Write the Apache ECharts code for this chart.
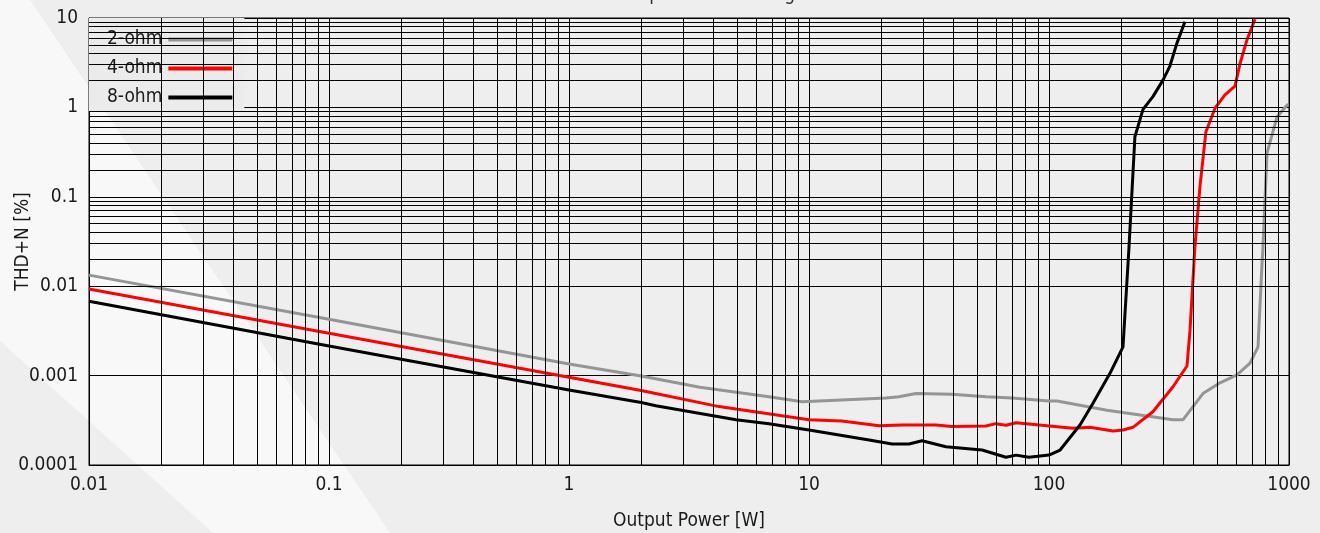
<!DOCTYPE html>
<html><head><meta charset="utf-8">
<script src="https://cdn.jsdelivr.net/npm/echarts@6/dist/echarts.min.js"></script>
<style>html,body{margin:0;padding:0;background:#eeeeee}#c{width:1320px;height:533px}</style>
</head><body><div id="c"></div>
<script>
const FONT = "'DejaVu Sans Condensed','Liberation Sans Narrow','Roboto Condensed','Liberation Sans',sans-serif";

const seriesNames = ['2-ohm', '4-ohm', '8-ohm'];
const seriesColors = ['#959595', '#ff0000', '#000000'];

// 2-ohm
const power2 = [0.01, 0.1, 1, 2.0, 3.51, 6.81, 9.35, 12.96, 20.9, 23.7, 27.9, 39.4, 54.6, 70.1, 100, 108, 174.5, 328.6, 361.4, 438, 515.9, 607, 688, 743, 772, 779, 810, 891, 991];
const thd2 = [0.0133, 0.00427, 0.00135, 0.00099, 0.00074, 0.00058, 0.00051, 0.00053, 0.00056, 0.00058, 0.00063, 0.00062, 0.00058, 0.00056, 0.00052, 0.00052, 0.00041, 0.00032, 0.00032, 0.00063, 0.00083, 0.00102, 0.00138, 0.0021, 0.018, 0.027, 0.31, 0.78, 1.09];

// 4-ohm
const power4 = [0.01, 0.1, 1, 2.0, 4.22, 10, 13.7, 19.6, 24.4, 33.8, 39.4, 54.6, 60.1, 66.2, 72.9, 93.5, 108, 125.9, 148.2, 184.8, 203.4, 223.9, 271, 328.6, 375.8, 386.8, 405.5, 425.6, 450.7, 491.7, 540.9, 595.7, 625.3, 668.5, 721.7];
const thd4 = [0.0093, 0.00297, 0.00096, 0.00068, 0.00045, 0.00032, 0.00031, 0.000275, 0.00028, 0.00028, 0.00027, 0.000273, 0.00029, 0.000278, 0.000297, 0.000278, 0.000268, 0.000257, 0.000264, 0.00024, 0.000246, 0.000264, 0.000394, 0.00075, 0.00128, 0.0032, 0.0277, 0.13, 0.535, 0.98, 1.38, 1.73, 3.1, 5.7, 9.7];

// 8-ohm
const power8 = [0.01, 0.1, 1, 2.0, 2.30, 4.97, 6.81, 10, 17.8, 22.2, 26.1, 29.6, 37.2, 52.6, 66.2, 72.9, 82.5, 100, 111.2, 134.6, 152.5, 179.5, 203.4, 215.4, 228, 246.4, 271, 298.5, 319, 341, 368.4];
const thd8 = [0.0068, 0.00214, 0.00069, 0.0005, 0.00046, 0.00032, 0.00029, 0.000246, 0.00019, 0.000172, 0.000172, 0.000187, 0.00016, 0.000147, 0.000122, 0.000129, 0.000122, 0.000129, 0.000147, 0.00028, 0.00049, 0.00106, 0.0021, 0.027, 0.47, 0.95, 1.32, 2.02, 2.9, 5.2, 9.1];

const xTicks = [0.01, 0.1, 1, 10, 100, 1000];
const yTicks = [0.0001, 0.001, 0.01, 0.1, 1, 10];
const minorSteps = [2, 3, 4, 5, 6, 7, 8, 9];

function minorValues(decades) {
  const out = [];
  for (let i = 0; i < decades.length - 1; i++) {
    minorSteps.forEach(m => out.push(Number((decades[i] * m).toPrecision(4))));
  }
  return out;
}
const xMinor = minorValues(xTicks);
const yMinor = minorValues(yTicks);

const zip = (xs, ys) => xs.map((x, i) => [x, ys[i]]);
const dataSets = [zip(power2, thd2), zip(power4, thd4), zip(power8, thd8)];

const fmt = v => String(Number(Number(v).toPrecision(3)));
const txt = { fontFamily: FONT, fontSize: 19, color: '#1a1a1a' };

const chart = echarts.init(document.getElementById('c'), null, { renderer: 'canvas' });
chart.setOption({
  backgroundColor: '#eeeeee',
  animation: false,
  title: {
    text: 'THD+N vs Output Power Rating',
    left: 'center', top: -19,
    textStyle: Object.assign({}, txt, { fontWeight: 'normal', color: '#333' })
  },
  graphic: [{
    type: 'polygon', silent: true, z: -100,
    shape: { points: [[0, 0], [30, 0], [390, 533], [213, 533], [0, 341]] },
    style: { fill: '#f8f8f8' }
  }],
  legend: {
    orient: 'vertical', left: 89, top: 18, align: 'right',
    itemWidth: 64, itemHeight: 14, itemGap: 10,
    padding: [12, 10, 5, 18],
    backgroundColor: '#ebebeb', borderWidth: 0,
    selectedMode: false,
    data: seriesNames,
    itemStyle: { opacity: 0 },
    lineStyle: { width: 4 },
    textStyle: Object.assign({}, txt, { lineHeight: 14, padding: [0, 1, 0, 0] })
  },
  grid: {
    left: 89, right: 31, top: 18, bottom: 68,
    containLabel: false, outerBoundsMode: 'none',
    show: true, borderColor: '#000', borderWidth: 1, backgroundColor: 'transparent'
  },
  xAxis: {
    type: 'log', logBase: 10, min: xTicks[0], max: xTicks[xTicks.length - 1],
    name: 'Output Power [W]', nameLocation: 'middle', nameGap: 47, nameMoveOverlap: false,
    nameTextStyle: txt,
    axisLine: { show: true, lineStyle: { color: '#000', width: 1 } },
    axisTick: { show: false },
    axisLabel: Object.assign({}, txt, { margin: 11, formatter: fmt }),
    splitLine: { show: true, lineStyle: { color: '#000', width: 1 } }
  },
  yAxis: {
    type: 'log', logBase: 10, min: yTicks[0], max: yTicks[yTicks.length - 1],
    name: 'THD+N [%]', nameLocation: 'middle', nameGap: 56, nameMoveOverlap: false,
    nameTextStyle: txt,
    axisLine: { show: true, lineStyle: { color: '#000', width: 1 } },
    axisTick: { show: false },
    axisLabel: Object.assign({}, txt, { margin: 11, formatter: fmt }),
    splitLine: { show: true, lineStyle: { color: '#000', width: 1 } }
  },
  series: [
    {
      type: 'line', name: 'minor-grid', data: [[xTicks[0], yTicks[0]]],
      symbol: 'none', lineStyle: { opacity: 0 }, z: 1, silent: true,
      markLine: {
        silent: true, symbol: ['none', 'none'], animation: false,
        label: { show: false },
        lineStyle: { color: '#000', width: 1, type: 'solid' },
        emphasis: { disabled: true },
        data: xMinor.map(v => ({ xAxis: v })).concat(yMinor.map(v => ({ yAxis: v })))
      }
    }
  ].concat(seriesNames.map((n, i) => ({
    type: 'line', name: n, data: dataSets[i],
    symbol: 'none', z: 3, clip: true,
    lineStyle: { color: seriesColors[i], width: 3 },
    itemStyle: { color: seriesColors[i] }
  })))
});
</script>
</body></html>
